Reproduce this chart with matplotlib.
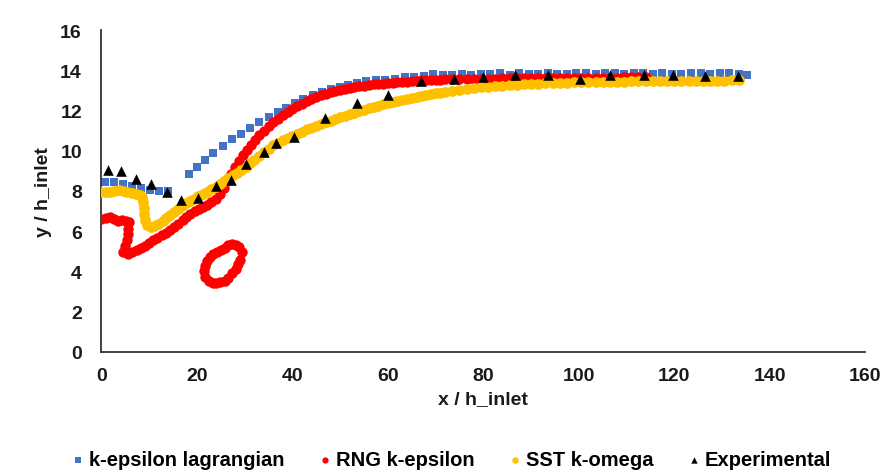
"""
Recreate the outlet profile comparison chart (y / h_inlet vs x / h_inlet).
"""

import matplotlib

matplotlib.use("Agg")

import matplotlib.pyplot as plt


# k-epsilon lagrangian (blue squares)
KE_LAG_X = [
    0.7, 2.6, 4.5, 6.4, 8.3, 10.2, 12.1, 14.0, 18.4, 20.0,
    21.7, 23.4, 25.4, 27.3, 29.2, 31.1, 33.0, 35.0, 36.9, 38.7,
    40.6, 42.3, 44.3, 46.2, 48.0, 50.0, 51.7, 53.5, 55.5, 57.5,
    59.5, 61.5, 63.5, 65.5, 67.5, 69.5, 71.5, 73.5, 75.5, 77.5,
    79.5, 81.5, 83.5, 85.5, 87.5, 89.5, 91.5, 93.5, 95.5, 97.5,
    99.5, 101.5, 103.5, 105.5, 107.5, 109.5, 111.5, 113.5, 115.5, 117.5,
    119.5, 121.5, 123.5, 125.5, 127.5, 129.5, 131.5, 133.5, 135.3,
]
KE_LAG_Y = [
    8.45, 8.45, 8.35, 8.25, 8.15, 8.05, 8.0, 8.0, 8.86, 9.19,
    9.52, 9.9, 10.23, 10.56, 10.85, 11.13, 11.43, 11.68, 11.92, 12.14,
    12.39, 12.55, 12.75, 12.92, 13.05, 13.17, 13.25, 13.35, 13.45, 13.5,
    13.52, 13.58, 13.65, 13.66, 13.72, 13.8, 13.75, 13.76, 13.8, 13.78,
    13.82, 13.8, 13.84, 13.78, 13.85, 13.82, 13.8, 13.86, 13.82, 13.82,
    13.88, 13.85, 13.82, 13.88, 13.86, 13.8, 13.88, 13.84, 13.82, 13.88,
    13.82, 13.8, 13.88, 13.84, 13.8, 13.88, 13.84, 13.8, 13.75,
]

# RNG k-epsilon (red circles): main profile
RNG_X = [
    0.0, 0.9, 1.8, 2.7, 3.5, 4.4, 5.2, 5.7, 5.6, 5.5,
    5.3, 5.0, 4.6, 5.6, 6.5, 7.4, 8.3, 9.1, 10.0, 10.9,
    11.7, 12.6, 13.5, 14.3, 15.2, 16.1, 17.0, 17.8, 18.6, 19.5,
    20.4, 21.2, 22.1, 23.0, 23.9, 24.8, 25.6, 26.4, 27.2, 28.0,
    28.8, 29.7, 30.5, 31.3, 32.2, 33.1, 34.0, 35.0, 36.0, 37.0,
    38.0, 39.0, 40.0, 41.0, 42.0, 43.0, 44.0, 45.0, 46.0, 47.0,
    48.0, 49.0, 50.0, 51.0, 52.0, 53.0, 54.0, 55.0, 56.0, 57.0,
    58.0, 59.0, 60.0, 61.0, 62.0, 63.0, 64.0, 65.0, 66.0, 67.0,
    68.0, 69.0, 70.0, 71.0, 72.0, 73.5, 75.0, 76.5, 78.0, 79.5,
    81.0, 82.5, 84.0, 85.5, 87.0, 88.5, 90.0, 91.5, 93.0, 94.5,
    96.0, 97.5, 99.0, 100.5, 102.0, 103.5, 105.0, 106.5, 108.0, 109.5,
    111.0, 112.5, 114.0,
]
RNG_Y = [
    6.62, 6.68, 6.7, 6.62, 6.53, 6.55, 6.52, 6.45, 6.1, 5.85,
    5.55, 5.25, 4.96, 4.88, 4.95, 5.05, 5.17, 5.29, 5.42, 5.55,
    5.67, 5.79, 5.92, 6.06, 6.2, 6.35, 6.55, 6.72, 6.87, 7.0,
    7.1, 7.2, 7.3, 7.45, 7.62, 7.85, 8.15, 8.5, 8.85, 9.2,
    9.5, 9.8, 10.05, 10.3, 10.55, 10.8, 11.0, 11.22, 11.42, 11.6,
    11.77, 11.92, 12.05, 12.2, 12.33, 12.45, 12.56, 12.66, 12.75, 12.83,
    12.9, 12.96, 13.02, 13.07, 13.12, 13.16, 13.2, 13.24, 13.27, 13.3,
    13.32, 13.34, 13.36, 13.38, 13.4, 13.42, 13.44, 13.46, 13.48, 13.5,
    13.51, 13.52, 13.53, 13.54, 13.55, 13.56, 13.57, 13.57, 13.58, 13.58,
    13.59, 13.59, 13.6, 13.6, 13.6, 13.61, 13.61, 13.61, 13.62, 13.62,
    13.62, 13.62, 13.62, 13.63, 13.63, 13.63, 13.63, 13.63, 13.63, 13.64,
    13.64, 13.64, 13.64,
]

# RNG k-epsilon (red circles): detached loop near x = 21-29
RNG_LOOP_X = [
    29.4, 28.9, 28.2, 27.4, 26.6, 25.8, 25.0, 24.2, 23.4, 22.7,
    22.2, 21.8, 21.5, 21.8, 22.5, 23.3, 24.1, 24.9, 25.8, 26.6,
    27.4, 28.1, 28.6, 29.0,
]
RNG_LOOP_Y = [
    4.96, 5.2, 5.32, 5.37, 5.3, 5.18, 5.05, 4.95, 4.85, 4.72,
    4.5, 4.25, 4.0, 3.75, 3.55, 3.45, 3.42, 3.47, 3.55, 3.7,
    3.9, 4.12, 4.35, 4.55,
]

# SST k-omega (orange circles)
SST_X = [
    0.0, 0.9, 1.8, 2.7, 3.6, 4.5, 5.4, 6.3, 7.2, 8.0,
    8.6, 8.8, 8.9, 9.0, 9.2, 9.6, 10.3, 11.1, 11.9, 12.8,
    13.6, 14.4, 15.2, 16.0, 16.9, 17.7, 18.6, 19.4, 20.3, 21.2,
    22.1, 23.0, 23.9, 24.8, 25.7, 26.6, 27.5, 28.4, 29.3, 30.2,
    31.1, 32.0, 33.0, 34.0, 35.0, 36.0, 37.0, 38.0, 39.0, 40.0,
    41.0, 42.0, 43.0, 44.0, 45.0, 46.0, 47.0, 48.0, 49.0, 50.0,
    51.0, 52.0, 53.0, 54.0, 55.0, 56.0, 57.0, 58.0, 59.0, 60.0,
    61.0, 62.0, 63.0, 64.0, 65.0, 66.0, 67.0, 68.0, 69.0, 70.0,
    71.0, 72.0, 73.5, 75.0, 76.5, 78.0, 79.5, 81.0, 82.5, 84.0,
    85.5, 87.0, 88.5, 90.0, 91.5, 93.0, 94.5, 96.0, 97.5, 99.0,
    100.5, 102.0, 103.5, 105.0, 106.5, 108.0, 109.5, 111.0, 112.5, 114.0,
    115.5, 117.0, 118.5, 120.0, 121.5, 123.0, 124.5, 126.0, 127.5, 129.0,
    130.5, 132.0, 133.5,
]
SST_Y = [
    7.95, 7.95, 7.95, 8.0, 8.03, 8.0, 7.95, 7.9, 7.87, 7.8,
    7.72, 7.45, 7.15, 6.85, 6.55, 6.3, 6.2, 6.25, 6.35, 6.5,
    6.65, 6.8, 6.95, 7.1, 7.25, 7.38, 7.5, 7.62, 7.73, 7.85,
    7.97, 8.1, 8.22, 8.35, 8.5, 8.65, 8.78, 8.9, 9.05, 9.2,
    9.38, 9.55, 9.75, 9.93, 10.1, 10.27, 10.4, 10.52, 10.63, 10.73,
    10.83, 10.95, 11.06, 11.15, 11.25, 11.33, 11.42, 11.5, 11.58, 11.66,
    11.74, 11.82, 11.9, 11.97, 12.04, 12.1, 12.17, 12.23, 12.3, 12.36,
    12.42, 12.48, 12.53, 12.58, 12.63, 12.68, 12.73, 12.77, 12.81, 12.85,
    12.89, 12.93, 12.98, 13.03, 13.07, 13.11, 13.15, 13.18, 13.21, 13.24,
    13.26, 13.28, 13.3, 13.32, 13.34, 13.35, 13.36, 13.38, 13.39, 13.4,
    13.41, 13.42, 13.42, 13.43, 13.43, 13.44, 13.44, 13.45, 13.45, 13.46,
    13.46, 13.46, 13.47, 13.47, 13.47, 13.48, 13.48, 13.48, 13.49, 13.49,
    13.49, 13.5, 13.5,
]

# Experimental (black triangles)
EXP_X = [
    1.4, 4.2, 7.2, 10.4, 13.8, 16.6, 20.2, 24.0, 27.1, 30.3,
    34.0, 36.6, 40.4, 46.9, 53.6, 60.0, 66.9, 73.8, 79.9, 86.7,
    93.5, 100.2, 106.6, 113.6, 119.7, 126.5, 133.3,
]
EXP_Y = [
    9.02, 8.97, 8.6, 8.36, 7.95, 7.53, 7.65, 8.26, 8.55, 9.32,
    9.95, 10.38, 10.68, 11.64, 12.37, 12.75, 13.47, 13.55, 13.67, 13.75,
    13.75, 13.55, 13.75, 13.75, 13.75, 13.72, 13.72,
]

X_TICKS = [0, 20, 40, 60, 80, 100, 120, 140, 160]
Y_TICKS = [0, 2, 4, 6, 8, 10, 12, 14, 16]

BLUE = "#4472C4"
RED = "#FF0000"
ORANGE = "#FFC000"
TEXT_COLOR = "#1a1a1a"

plt.rcParams["font.family"] = ["Liberation Sans", "DejaVu Sans"]
plt.rcParams["font.weight"] = "bold"


def main() -> None:
    fig = plt.figure(figsize=(8.82, 4.77), dpi=100)
    ax = fig.add_axes([0.115, 0.26, 0.866, 0.675])

    ax.scatter(KE_LAG_X, KE_LAG_Y, marker="s", s=40, color=BLUE,
               linewidths=0, label="k-epsilon lagrangian", zorder=2)
    ax.scatter(RNG_X + RNG_LOOP_X, RNG_Y + RNG_LOOP_Y, marker="o", s=56,
               color=RED, linewidths=0, label="RNG k-epsilon", zorder=3)
    ax.scatter(SST_X, SST_Y, marker="o", s=60, color=ORANGE,
               linewidths=0, label="SST k-omega", zorder=4)
    ax.scatter(EXP_X, EXP_Y, marker="^", s=58, color="black",
               linewidths=0, label="Experimental", zorder=5)

    ax.set_xlim(0, 160)
    ax.set_ylim(0, 16)
    ax.set_xticks(X_TICKS)
    ax.set_yticks(Y_TICKS)
    ax.tick_params(length=0, labelsize=14, colors=TEXT_COLOR)
    ax.tick_params(axis="x", pad=11)
    ax.tick_params(axis="y", pad=14)
    for label in ax.get_xticklabels() + ax.get_yticklabels():
        label.set_fontweight("bold")

    for side in ["top", "right"]:
        ax.spines[side].set_visible(False)
    for side in ["left", "bottom"]:
        ax.spines[side].set_color("#333333")
        ax.spines[side].set_linewidth(1.3)

    ax.set_xlabel("x / h_inlet", fontsize=14, fontweight="bold",
                  color=TEXT_COLOR, labelpad=4)
    ax.set_ylabel("y / h_inlet", fontsize=14, fontweight="bold",
                  color=TEXT_COLOR, labelpad=6)

    fig.legend(
        loc="center",
        bbox_to_anchor=(0.51, 0.035),
        ncol=4,
        frameon=False,
        markerscale=0.6,
        handletextpad=0.05,
        columnspacing=1.5,
        handlelength=1.0,
        prop={"weight": "bold", "size": 14.5},
    )

    fig.savefig("out.png", dpi=100)
    plt.close(fig)


if __name__ == "__main__":
    main()
